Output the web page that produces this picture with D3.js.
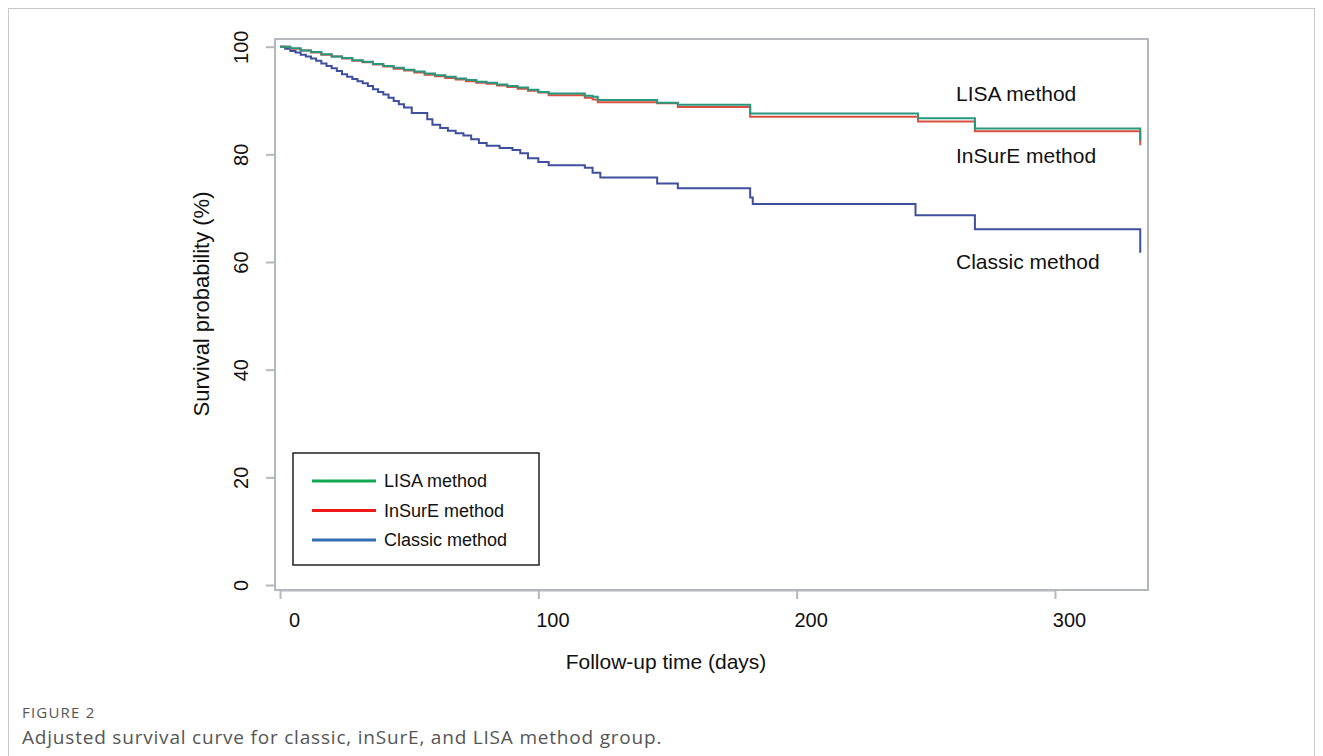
<!DOCTYPE html>
<html>
<head>
<meta charset="utf-8">
<script src="https://cdn.jsdelivr.net/npm/d3@7"></script>
<style>
  body { margin: 0; background: #fff; }
  svg text { font-family: "Liberation Sans", Arial, sans-serif; }
</style>
</head>
<body>
<div id="chart"></div>
<script>
// step data: [day, survival %]
const lisaSteps = [
  [0, 100], [4, 99.7], [8, 99.3], [12, 99.0], [16, 98.6], [20, 98.2], [24, 97.9], [28, 97.5],
  [32, 97.2], [36, 96.8], [40, 96.4], [44, 96.1], [48, 95.7], [52, 95.4], [56, 95.0], [60, 94.7],
  [64, 94.4], [68, 94.1], [72, 93.8], [76, 93.5], [80, 93.3], [84, 93.0], [88, 92.7], [92, 92.4],
  [96, 92.0], [100, 91.6], [104, 91.3], [118, 90.9], [121, 90.7], [123, 90.1], [146, 89.6],
  [154, 89.2], [182, 87.6], [247, 86.7], [269, 84.8], [333, 82.6]
];
const insureSteps = [
  [0, 100], [4, 99.6], [8, 99.3], [12, 98.9], [16, 98.5], [20, 98.2], [24, 97.8], [28, 97.4],
  [32, 97.1], [36, 96.7], [40, 96.3], [44, 95.9], [48, 95.6], [52, 95.2], [56, 94.8], [60, 94.5],
  [64, 94.2], [68, 93.9], [72, 93.6], [76, 93.3], [80, 93.1], [84, 92.8], [88, 92.5], [92, 92.2],
  [96, 91.8], [100, 91.5], [104, 91.0], [118, 90.5], [121, 90.2], [123, 89.7], [146, 89.5],
  [154, 88.8], [182, 87.0], [247, 86.1], [269, 84.3], [333, 81.7]
];
const classicSteps = [
  [0, 100], [2, 99.6], [4, 99.2], [6, 98.9], [8, 98.5], [10, 98.2], [12, 97.8], [14, 97.4],
  [16, 96.9], [18, 96.4], [20, 96.0], [22, 95.5], [24, 94.9], [26, 94.4], [28, 94.0], [30, 93.6],
  [32, 93.2], [34, 92.7], [36, 92.1], [38, 91.6], [40, 91.1], [42, 90.5], [44, 89.9], [46, 89.3],
  [48, 88.7], [51, 87.7], [57, 86.5], [59, 85.5], [62, 84.9], [65, 84.4], [68, 83.9], [71, 83.5],
  [74, 82.8], [77, 82.1], [80, 81.6], [85, 81.2], [90, 80.8], [93, 80.2], [96, 79.3], [100, 78.6],
  [104, 78.0], [118, 77.5], [121, 76.6], [124, 75.7], [146, 74.6], [154, 73.7], [182, 72.0],
  [183, 70.8], [246, 68.7], [269, 66.1], [333, 61.7]
];

const seriesNames = ['LISA method', 'InSurE method', 'Classic method'];
const xTicks = [0, 100, 200, 300];
const yTicks = [0, 20, 40, 60, 80, 100];

const width = 1323, height = 756;
const plot = { left: 275, top: 39, right: 1148, bottom: 590 };

const x = d3.scaleLinear().domain([0, 300]).range([280, 1055]);
const y = d3.scaleLinear().domain([0, 100]).range([585, 46.7]);

const svg = d3.select('#chart')
  .append('svg')
  .attr('width', width)
  .attr('height', height);

// figure frame
svg.append('rect')
  .attr('x', 8.5).attr('y', 8.5)
  .attr('width', 1306).attr('height', 760)
  .attr('fill', 'none')
  .attr('stroke', '#c8c8c8')
  .attr('stroke-width', 1);

// plot box
svg.append('rect')
  .attr('x', plot.left).attr('y', plot.top)
  .attr('width', plot.right - plot.left)
  .attr('height', plot.bottom - plot.top)
  .attr('fill', 'none')
  .attr('stroke', '#b4b8bc')
  .attr('stroke-width', 2);

// x axis
const xAxis = svg.append('g')
  .attr('transform', 'translate(0,' + plot.bottom + ')')
  .call(d3.axisBottom(x).tickValues(xTicks).tickSize(9).tickSizeOuter(0).tickPadding(14));
xAxis.select('.domain').attr('stroke', '#b4b8bc').attr('stroke-width', 2);
xAxis.selectAll('.tick line').attr('stroke', '#b4b8bc').attr('stroke-width', 2);
xAxis.selectAll('text')
  .attr('dx', 14)
  .style('font-size', '20px')
  .style('font-family', '"Liberation Sans", Arial, sans-serif')
  .attr('fill', '#111');

// y axis (rotated labels like base R)
const yAxis = svg.append('g')
  .attr('transform', 'translate(' + plot.left + ',0)')
  .call(d3.axisLeft(y).tickValues(yTicks).tickSize(9).tickSizeOuter(0));
yAxis.select('.domain').remove();
yAxis.selectAll('.tick line').attr('stroke', '#b4b8bc').attr('stroke-width', 2);
yAxis.selectAll('text')
  .attr('x', 0).attr('dy', 0)
  .attr('transform', 'translate(-34,0) rotate(-90)')
  .style('text-anchor', 'middle')
  .style('dominant-baseline', 'central')
  .style('font-size', '20px')
  .style('font-family', '"Liberation Sans", Arial, sans-serif')
  .attr('fill', '#111');

// axis titles
svg.append('text')
  .attr('transform', 'translate(201,304) rotate(-90)')
  .style('text-anchor', 'middle')
  .style('dominant-baseline', 'central')
  .style('font-size', '22px')
  .attr('fill', '#111')
  .text('Survival probability (%)');

svg.append('text')
  .attr('x', 666)
  .attr('y', 669)
  .style('text-anchor', 'middle')
  .style('font-size', '21px')
  .attr('fill', '#111')
  .text('Follow-up time (days)');

// survival curves
const line = d3.line()
  .x(d => x(d[0]))
  .y(d => y(d[1]))
  .curve(d3.curveStepAfter);

const curves = [
  { data: classicSteps, color: '#3e4f9e' },
  { data: insureSteps, color: '#d8503f' },
  { data: lisaSteps, color: '#27977f' }
];
svg.selectAll('.curve')
  .data(curves)
  .enter().append('path')
  .attr('class', 'curve')
  .attr('d', d => line(d.data))
  .attr('fill', 'none')
  .attr('stroke', d => d.color)
  .attr('stroke-width', 2);

// labels at the curve ends
const endLabels = [
  { text: seriesNames[0], y: 93 },
  { text: seriesNames[1], y: 155 },
  { text: seriesNames[2], y: 261 }
];
svg.selectAll('.end-label')
  .data(endLabels)
  .enter().append('text')
  .attr('class', 'end-label')
  .attr('x', 956)
  .attr('y', d => d.y)
  .style('dominant-baseline', 'central')
  .style('font-size', '21px')
  .attr('fill', '#111')
  .text(d => d.text);

// legend
const legend = svg.append('g');
legend.append('rect')
  .attr('x', 293).attr('y', 453)
  .attr('width', 246).attr('height', 112)
  .attr('fill', '#fff')
  .attr('stroke', '#222')
  .attr('stroke-width', 1.5);

const legendColors = ['#14a650', '#f01818', '#2f6db5'];
const legendRows = legend.selectAll('.row')
  .data(seriesNames)
  .enter().append('g')
  .attr('transform', (d, i) => 'translate(0,' + (481 + i * 29.5) + ')');
legendRows.append('line')
  .attr('x1', 312).attr('x2', 376)
  .attr('stroke', (d, i) => legendColors[i])
  .attr('stroke-width', 3);
legendRows.append('text')
  .attr('x', 384)
  .style('dominant-baseline', 'central')
  .style('font-size', '18px')
  .attr('fill', '#111')
  .text(d => d);

// caption
svg.append('text')
  .attr('x', 22).attr('y', 718)
  .style('font-family', '"Open Sans", "Noto Sans", sans-serif')
  .style('font-size', '15px')
  .style('letter-spacing', '1.2px')
  .attr('fill', '#555')
  .text('FIGURE 2');
svg.append('text')
  .attr('x', 22).attr('y', 744)
  .style('font-family', '"Open Sans", "Noto Sans", sans-serif')
  .style('font-size', '19px')
  .style('letter-spacing', '0.8px')
  .attr('fill', '#555')
  .text('Adjusted survival curve for classic, inSurE, and LISA method group.');
</script>
</body>
</html>
